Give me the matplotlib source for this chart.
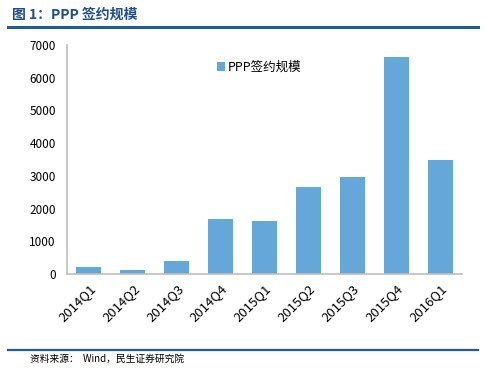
import matplotlib.pyplot as plt
import numpy as np

plt.rcParams['font.family'] = ['Noto Sans CJK SC', 'DejaVu Sans']

quarters = ['2014Q1', '2014Q2', '2014Q3', '2014Q4', '2015Q1',
            '2015Q2', '2015Q3', '2015Q4', '2016Q1']
ppp_signed = [215, 130, 395, 1680, 1625, 2665, 2970, 6640, 3490]

series_name = 'PPP签约规模'
title = '图 1：PPP 签约规模'
source = '资料来源：  Wind，民生证券研究院'

W, H = 486, 373
fig = plt.figure(figsize=(W / 100, H / 100), dpi=100)

# header / footer
fig.text(12 / W, 1 - 15 / H, title, fontsize=10, fontweight='bold',
         color='#1F4E8C', va='center', ha='left')
fig.add_artist(plt.Line2D([8 / W, 478 / W], [1 - 27 / H, 1 - 27 / H],
                          color='#1F5C9E', lw=2.2))
fig.add_artist(plt.Line2D([8 / W, 478 / W], [1 - 350 / H, 1 - 350 / H],
                          color='#1F5C9E', lw=1.6))
fig.text(30 / W, 1 - 359 / H, source, fontsize=7, color='black',
         va='center', ha='left')

ax = fig.add_axes([67 / W, 1 - 274 / H, (462 - 67) / W, (274 - 45) / H])
x = np.arange(len(quarters))
ax.bar(x, ppp_signed, width=0.57, color='#65A7D9', label=series_name)
ax.set_xlim(-0.5, len(quarters) - 0.5)
ax.set_ylim(0, 7000)
ax.set_yticks(np.arange(0, 7001, 1000))
ax.set_xticks(x)
ax.set_xticklabels(quarters, rotation=45, ha='right', rotation_mode='anchor',
                   fontsize=9.5)
ax.tick_params(axis='y', labelsize=8.5, length=0, pad=8)
ax.tick_params(axis='x', length=0, pad=6)
for s in ['top', 'right']:
    ax.spines[s].set_visible(False)
for s in ['left', 'bottom']:
    ax.spines[s].set_color('#BFBFBF')
    ax.spines[s].set_linewidth(1.2)

ax.legend(loc='upper left', bbox_to_anchor=(0.35, 0.98), frameon=False,
          fontsize=9, handlelength=0.7, handleheight=0.7, handletextpad=0.2)

fig.savefig('out.png', dpi=100)
